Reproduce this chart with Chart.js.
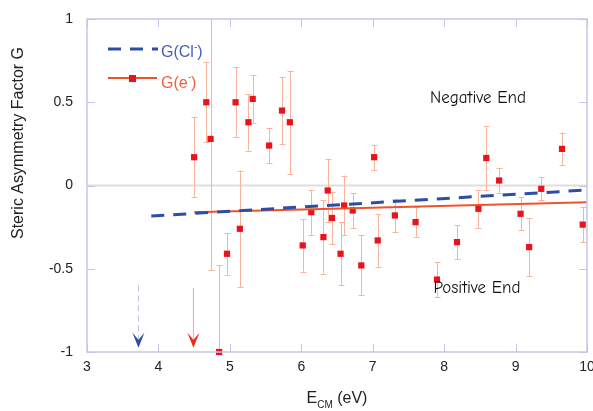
<!DOCTYPE html>
<html><head><meta charset="utf-8">
<script src="https://cdn.jsdelivr.net/npm/chart.js@4"></script>
<style>html,body{margin:0;padding:0;background:#fff;}</style>
</head><body>
<canvas id="c" width="593" height="411" style="width:593px;height:411px;display:block"></canvas>
<script>
// ---- data ----
const energies = [4.50, 4.67, 4.73, 4.85, 4.96, 5.08, 5.14, 5.26, 5.32, 5.55, 5.73, 5.84, 6.02, 6.14, 6.31, 6.37, 6.43, 6.55, 6.60, 6.72, 6.84, 7.02, 7.07, 7.31, 7.60, 7.90, 8.18, 8.48, 8.59, 8.77, 9.07, 9.19, 9.36, 9.65, 9.94];
const gElectron = [0.17, 0.50, 0.28, -1.00, -0.41, 0.50, -0.26, 0.38, 0.52, 0.24, 0.45, 0.38, -0.36, -0.16, -0.31, -0.03, -0.195, -0.41, -0.12, -0.15, -0.48, 0.17, -0.33, -0.18, -0.22, -0.565, -0.34, -0.14, 0.165, 0.03, -0.17, -0.37, -0.02, 0.22, -0.235];
const gError = [0.24, 0.24, 0.79, 0.52, 0.125, 0.21, 0.35, 0.17, 0.145, 0.105, 0.20, 0.31, 0.157, 0.135, 0.22, 0.19, 0.157, 0.19, 0.18, 0.105, 0.18, 0.075, 0.157, 0.10, 0.09, 0.105, 0.103, 0.114, 0.19, 0.077, 0.098, 0.173, 0.07, 0.098, 0.106];
const clFitX = [3.9, 10];
const clFitY = [-0.183, -0.027];
const eFitX = [4.5, 10];
const eFitY = [-0.16, -0.10];
const thresholdX = [3.72, 4.49];     // arrows: G(Cl-) and G(e-) thresholds
const arrowFromY = [-0.60, -0.615];
const arrowToY = [-0.975, -0.975];
const xTicks = [3, 4, 5, 6, 7, 8, 9, 10];
const yTicks = [-1, -0.5, 0, 0.5, 1];
const labels = { cl: 'G(Cl', e: 'G(e', neg: 'Negative End', pos: 'Positive End', yTitle: 'Steric Asymmetry Factor G', xTitle: 'E', xSub: 'CM', xUnit: ' (eV)' };

const FONT = "'Liberation Sans', Arial, sans-serif";
const COMIC = "'Comic Sans MS', 'Comic Neue', 'DejaVu Sans', sans-serif";
const BLUE = '#2d4ea6', RED = '#e8141c', REDLINE = '#f0522c', ERR = '#f8b49c', AXIS = '#c3c7e6';

const decor = {
  id: 'decor',
  beforeDatasetsDraw(chart) {
    const { ctx, chartArea: a, scales: { x, y } } = chart;
    ctx.save();
    ctx.strokeStyle = '#dedede'; ctx.lineWidth = 2;
    const y0 = y.getPixelForValue(0);
    ctx.beginPath(); ctx.moveTo(a.left, y0); ctx.lineTo(a.right, y0); ctx.stroke();
    ctx.beginPath(); ctx.rect(a.left, a.top, a.right - a.left, a.bottom - a.top); ctx.clip();
    ctx.strokeStyle = ERR; ctx.lineWidth = 1;
    energies.forEach((e, i) => {
      const px = Math.round(x.getPixelForValue(e)) + 0.5;
      const t = y.getPixelForValue(gElectron[i] + gError[i]);
      const b = y.getPixelForValue(gElectron[i] - gError[i]);
      ctx.beginPath();
      ctx.moveTo(px, t); ctx.lineTo(px, b);
      ctx.moveTo(px - 3, Math.round(t) + 0.5); ctx.lineTo(px + 3, Math.round(t) + 0.5);
      ctx.moveTo(px - 3, Math.round(b) + 0.5); ctx.lineTo(px + 3, Math.round(b) + 0.5);
      ctx.stroke();
    });
    ctx.restore();
  },
  afterDraw(chart) {
    const { ctx, chartArea: a, scales: { x, y } } = chart;
    ctx.save();
    ctx.strokeStyle = AXIS; ctx.lineWidth = 1.5;
    ctx.strokeRect(a.left, a.top, a.right - a.left, a.bottom - a.top);
    ctx.lineWidth = 1;
    xTicks.forEach(v => {
      const px = Math.round(x.getPixelForValue(v)) + 0.5;
      ctx.beginPath();
      ctx.moveTo(px, a.bottom); ctx.lineTo(px, a.bottom - 8);
      ctx.moveTo(px, a.top); ctx.lineTo(px, a.top + 8);
      ctx.stroke();
    });
    yTicks.forEach(v => {
      const py = Math.round(y.getPixelForValue(v)) + 0.5;
      ctx.beginPath();
      ctx.moveTo(a.left, py); ctx.lineTo(a.left + 8, py);
      ctx.moveTo(a.right, py); ctx.lineTo(a.right - 8, py);
      ctx.stroke();
    });
    const arrowHead = (px, py, col) => {
      ctx.fillStyle = col;
      ctx.beginPath();
      ctx.moveTo(px, py); ctx.lineTo(px - 6, py - 15); ctx.lineTo(px, py - 8); ctx.lineTo(px + 6, py - 15);
      ctx.closePath(); ctx.fill();
    };
    let px = x.getPixelForValue(thresholdX[0]);
    ctx.strokeStyle = '#b9c1e2'; ctx.lineWidth = 1; ctx.setLineDash([6, 4]);
    ctx.beginPath(); ctx.moveTo(px, y.getPixelForValue(arrowFromY[0])); ctx.lineTo(px, y.getPixelForValue(arrowToY[0]) - 9); ctx.stroke();
    ctx.setLineDash([]);
    arrowHead(px, y.getPixelForValue(arrowToY[0]), BLUE);
    px = x.getPixelForValue(thresholdX[1]);
    ctx.strokeStyle = '#f7a68e';
    ctx.beginPath(); ctx.moveTo(px, y.getPixelForValue(arrowFromY[1])); ctx.lineTo(px, y.getPixelForValue(arrowToY[1]) - 9); ctx.stroke();
    arrowHead(px, y.getPixelForValue(arrowToY[1]), '#ee2a1e');

    // legend
    ctx.strokeStyle = BLUE; ctx.lineWidth = 3; ctx.setLineDash([13, 9]);
    ctx.beginPath(); ctx.moveTo(108, 49); ctx.lineTo(158, 49); ctx.stroke();
    ctx.setLineDash([]);
    ctx.strokeStyle = REDLINE; ctx.lineWidth = 2;
    ctx.beginPath(); ctx.moveTo(108, 78); ctx.lineTo(157, 78); ctx.stroke();
    ctx.fillStyle = RED; ctx.fillRect(129, 75, 7, 7);
    ctx.textBaseline = 'alphabetic'; ctx.textAlign = 'left';
    ctx.font = '16px ' + FONT;
    ctx.fillStyle = '#4b5cb3';
    ctx.fillText(labels.cl, 161, 57);
    let w = ctx.measureText(labels.cl).width;
    ctx.font = '10px ' + FONT; ctx.fillText('-', 161 + w, 50);
    let w2 = ctx.measureText('-').width;
    ctx.font = '16px ' + FONT; ctx.fillText(')', 161 + w + w2, 57);
    ctx.fillStyle = '#f2603a';
    ctx.fillText(labels.e, 161, 88);
    w = ctx.measureText(labels.e).width;
    ctx.font = '10px ' + FONT; ctx.fillText('-', 161 + w, 80);
    w2 = ctx.measureText('-').width;
    ctx.font = '16px ' + FONT; ctx.fillText(')', 161 + w + w2, 88);

    // annotations
    ctx.fillStyle = '#111'; ctx.textAlign = 'center'; ctx.textBaseline = 'middle';
    ctx.font = '17px ' + COMIC;
    ctx.fillText(labels.neg, 478, 98);
    ctx.fillText(labels.pos, 477, 288);

    // axis titles
    ctx.fillStyle = '#222';
    ctx.font = '16px ' + FONT;
    ctx.save();
    ctx.translate(19, 143); ctx.rotate(-Math.PI / 2);
    ctx.fillText(labels.yTitle, 0, 0);
    ctx.restore();
    ctx.textAlign = 'left'; ctx.textBaseline = 'alphabetic';
    const wE = ctx.measureText(labels.xTitle).width;
    ctx.font = '10px ' + FONT; const wS = ctx.measureText(labels.xSub).width;
    ctx.font = '16px ' + FONT; const wU = ctx.measureText(labels.xUnit).width;
    let sx = 337 - (wE + wS + wU) / 2;
    ctx.fillText(labels.xTitle, sx, 403);
    ctx.font = '10px ' + FONT; ctx.fillText(labels.xSub, sx + wE, 408);
    ctx.font = '16px ' + FONT; ctx.fillText(labels.xUnit, sx + wE + wS, 403);
    ctx.restore();
  }
};

new Chart(document.getElementById('c'), {
  type: 'scatter',
  data: {
    datasets: [
      { type: 'line', data: clFitX.map((v, i) => ({ x: v, y: clFitY[i] })), borderColor: BLUE, borderWidth: 3, borderDash: [13, 9], pointRadius: 0, fill: false },
      { type: 'line', data: eFitX.map((v, i) => ({ x: v, y: eFitY[i] })), borderColor: REDLINE, borderWidth: 2, pointRadius: 0, fill: false },
      { data: energies.map((v, i) => ({ x: v, y: gElectron[i] })), pointStyle: 'rect', pointRadius: 4.4, backgroundColor: RED, borderWidth: 0, clip: false }
    ]
  },
  options: {
    responsive: false, animation: false,
    layout: { padding: { left: 0, right: 6, top: 19, bottom: 0 } },
    plugins: { legend: { display: false }, tooltip: { enabled: false } },
    scales: {
      x: {
        type: 'linear', min: 3, max: 10,
        afterBuildTicks: s => { s.ticks = xTicks.map(v => ({ value: v })); },
        afterFit: s => { s.height = 59; s.paddingLeft = 0; s.paddingRight = 0; },
        grid: { display: false, drawTicks: false }, border: { display: false },
        ticks: { color: '#222', font: { family: FONT, size: 14 }, padding: 7, maxRotation: 0, callback: v => String(v) }
      },
      y: {
        type: 'linear', min: -1, max: 1,
        afterBuildTicks: s => { s.ticks = yTicks.map(v => ({ value: v })); },
        afterFit: s => { s.width = 87; s.paddingTop = 0; s.paddingBottom = 0; },
        grid: { display: false, drawTicks: false }, border: { display: false },
        ticks: { color: '#222', font: { family: FONT, size: 14 }, padding: 14, callback: v => String(v) }
      }
    }
  },
  plugins: [decor]
});
</script>
</body></html>
